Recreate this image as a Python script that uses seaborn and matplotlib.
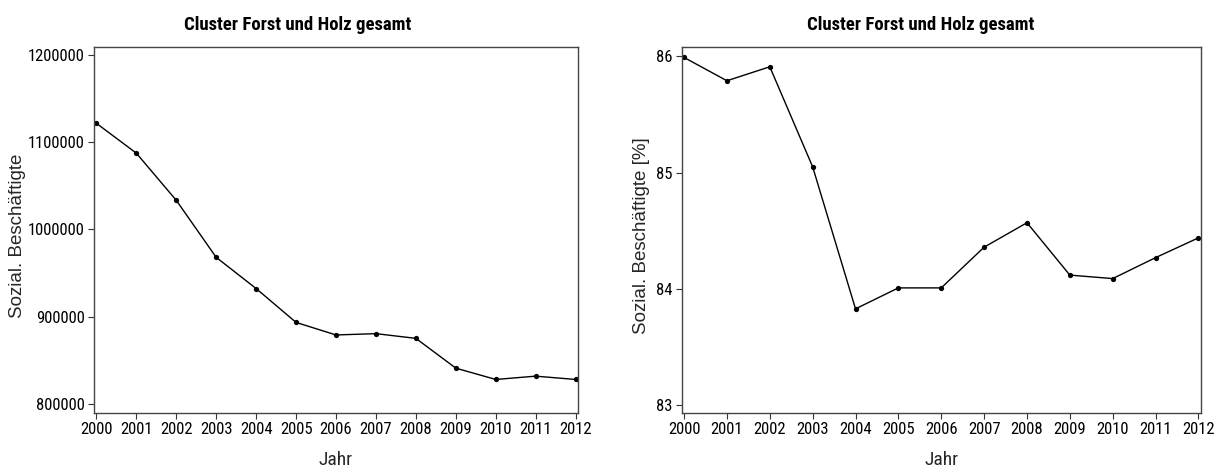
import os
import matplotlib
matplotlib.use("Agg")
import matplotlib.pyplot as plt
import matplotlib.font_manager as fm
import seaborn as sns
import pandas as pd
from matplotlib.ticker import FuncFormatter

years = [2000, 2001, 2002, 2003, 2004, 2005, 2006, 2007, 2008, 2009, 2010, 2011, 2012]
beschaeftigte = [1121900, 1087600, 1033500, 968000, 932200, 893300, 878900,
                 880400, 875000, 840800, 827800, 831600, 827800]
anteil = [85.99, 85.79, 85.91, 85.05, 83.83, 84.01, 84.01, 84.36, 84.57,
          84.12, 84.09, 84.27, 84.44]
left_yticks = [800000, 900000, 1000000, 1100000, 1200000]
right_yticks = [83, 84, 85, 86]
title = "Cluster Forst und Holz gesamt"
xlabel = "Jahr"
ylabel_left = "Sozial. Beschäftigte"
ylabel_right = "Sozial. Beschäftigte [%]"

sns.set_theme(style="white")
plt.rcParams["font.family"] = ["Liberation Sans", "DejaVu Sans"]


def _is_bold(f):
    w = f.weight
    if isinstance(w, str):
        return "bold" in w.lower() or "black" in w.lower() or "heavy" in w.lower()
    return w >= 600


def find_narrow(bold):
    pats = ["liberationsansnarrow", "liberation sans narrow", "arial narrow",
            "robotocondensed", "roboto condensed", "opensanscondensed",
            "open sans condensed", "opensans_condensed", "dejavusanscondensed",
            "dejavu sans condensed", "condensed", "narrow"]
    entries = fm.fontManager.ttflist
    for p in pats:
        for f in entries:
            key = (f.name + " " + os.path.basename(f.fname)).lower().replace("-", "")
            if p.replace("-", "") in key and f.style == "normal" and _is_bold(f) == bold:
                if "italic" in key or "oblique" in key or "light" in key:
                    continue
                return f.fname
    return None


narrow_reg = find_narrow(False)
narrow_bold = find_narrow(True)


def fp(size, bold=False):
    path = narrow_bold if bold else narrow_reg
    if path:
        return fm.FontProperties(fname=path, size=size)
    return fm.FontProperties(family="Liberation Sans", size=size * 0.85,
                             weight="bold" if bold else "normal")


df = pd.DataFrame({"Jahr": years, "abs": beschaeftigte, "pct": anteil})

W, H = 1220, 470
fig = plt.figure(figsize=(12.2, 4.7), dpi=100)
ax1 = fig.add_axes([94 / W, 1 - 413 / H, 484 / W, 366 / H])
ax2 = fig.add_axes([681.5 / W, 1 - 413 / H, 519.5 / W, 366 / H])

int_fmt = FuncFormatter(lambda v, p: f"{int(round(v))}")
specs = [
    (ax1, "abs", left_yticks, (789300, 1209500), ylabel_left, (18 - 94) / 484, 298),
    (ax2, "pct", right_yticks, (82.935, 86.08), ylabel_right, (641 - 681.5) / 519.5, 921),
]

for ax, col, yt, ylim, ylab, ylab_x, title_x in specs:
    sns.lineplot(data=df, x="Jahr", y=col, ax=ax, color="black", linewidth=1.0,
                 marker="o", markersize=3.8, markeredgewidth=0, markerfacecolor="black")
    ax.set_xlim(years[0] - 0.06, years[-1] + 0.06)
    ax.set_ylim(*ylim)
    ax.set_xticks(years)
    ax.set_xticklabels([str(y) for y in years])
    ax.set_yticks(yt)
    ax.yaxis.set_major_formatter(int_fmt)
    ax.tick_params(axis="both", which="both", direction="out", length=4, width=0.8,
                   color="#333333", left=True, bottom=True, pad=2.5, labelcolor="black")
    for lbl in ax.get_xticklabels() + ax.get_yticklabels():
        lbl.set_fontproperties(fp(12))
    for s in ax.spines.values():
        s.set_color("#444444")
        s.set_linewidth(1.0)
    fig.text(title_x / W, 1 - 29.5 / H, title, fontproperties=fp(13.5, bold=True),
             ha="center", va="baseline", color="black")
    ax.set_xlabel(xlabel, fontproperties=fp(14))
    ax.xaxis.set_label_coords(0.5, (413 - 460) / 366)
    ax.xaxis.label.set_va("center")
    ax.set_ylabel(ylab, fontsize=13.5, family=["Liberation Sans", "DejaVu Sans"])
    ax.yaxis.set_label_coords(ylab_x, 0.485)
    ax.yaxis.label.set_va("center")
    ax.grid(False)

fig.savefig("out.png", dpi=100, facecolor="white")
